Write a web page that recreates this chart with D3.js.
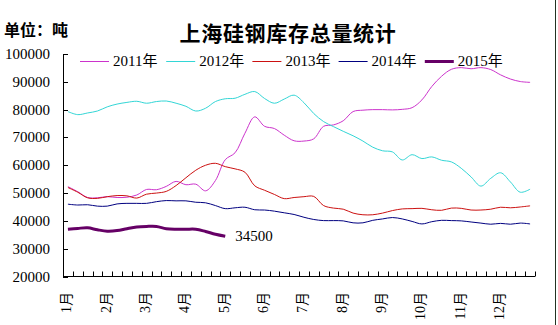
<!DOCTYPE html>
<html><head><meta charset="utf-8">
<script src="https://cdn.jsdelivr.net/npm/d3@7"></script>
<style>
html,body{margin:0;padding:0;background:#fff;}
svg{display:block;}
</style>
</head><body>
<script>
const months = ["1月","2月","3月","4月","5月","6月","7月","8月","9月","10月","11月","12月"];
const weeksPerMonth = 4;
const yTicks = [20000,30000,40000,50000,60000,70000,80000,90000,100000];
const seriesNames = ["2011年","2012年","2013年","2014年","2015年"];
const seriesColors = ["#cc33cc","#33d6d6","#cc1111","#000080","#660066"];
const seriesWidths = [1,1,1,1,3];

const s2011 = [52300,50500,48400,48300,48700,48400,48500,49300,51300,51200,52400,54200,
  53000,53200,50800,54500,62000,64500,71500,77400,74000,73200,70800,68800,
  68700,69500,74000,74500,76000,79300,79800,80000,80000,79900,80100,80700,
  83500,88300,92000,94500,95100,94700,95100,94400,92500,91000,90100,89800];
const s2012 = [79300,78200,78800,79500,81000,82000,82600,83000,82300,82900,83100,82300,
  81200,79500,80500,82900,83900,84100,85500,86500,84000,82300,83800,85200,
  82500,78600,75700,73900,72200,70600,68700,66500,65200,64800,61900,63800,
  62400,63000,61800,61200,58900,55800,52500,55300,57300,54000,50300,51400];
const s2013 = [52000,50300,48300,48100,48700,49100,49000,48200,49600,50000,50600,52700,
  55500,58200,60000,60700,59500,58700,57500,52600,51000,49500,48000,48400,
  48700,48800,45500,44600,44200,42800,42200,42200,42800,43700,44300,44400,
  44500,44000,43800,44600,44500,43900,43900,44200,44900,44700,45000,45400];
const s2014 = [46000,45700,45800,45300,45300,46100,46300,46300,46300,46900,47300,47200,
  47200,46700,46500,45500,44400,44700,44900,44000,43900,43500,42900,42300,
  41300,40500,40100,40100,40000,39300,39300,40200,40700,41200,40700,39800,
  38900,39700,40200,40100,40000,39600,39200,38800,39100,38800,39200,38900];
const s2015 = [37000,37300,37500,36800,36300,36500,37200,37800,38000,38000,37200,37000,
  37000,37000,36200,35200,34500];
const lastLabel = "34500";
const allSeries = [s2011,s2012,s2013,s2014,s2015];

(function(){
const W = 558, H = 325;
const svg = d3.select("body").append("svg").attr("width",W).attr("height",H);
svg.append("rect").attr("width",W).attr("height",H).attr("fill","#fff");

const pL = 63, pR = 535, pT = 54, pB = 276.5;
const nCat = months.length*weeksPerMonth;
const x = d3.scaleBand().domain(d3.range(nCat)).range([pL,pR]).padding(0);
const y = d3.scaleLinear().domain([20000,100000]).range([pB,pT]);
const cx = i => x(i) + x.bandwidth()/2;

const numFont = "'Liberation Serif','Noto Sans CJK SC',serif";

svg.append("text").attr("x",288).attr("y",32)
  .attr("text-anchor","middle").attr("dominant-baseline","central")
  .attr("font-family","'Noto Sans CJK SC',sans-serif").attr("font-weight","bold")
  .attr("font-size",21).attr("letter-spacing",0.7).attr("fill","#000")
  .text("上海硅钢库存总量统计");
svg.append("text").attr("x",4).attr("y",29)
  .attr("dominant-baseline","central")
  .attr("font-family","'Noto Sans CJK SC',sans-serif").attr("font-weight","bold")
  .attr("font-size",16).attr("fill","#000")
  .text("单位：吨");

const gy = svg.append("g");
gy.append("line").attr("x1",pL+0.5).attr("x2",pL+0.5).attr("y1",pT).attr("y2",pB)
  .attr("stroke","#000");
yTicks.forEach(t=>{
  const yy = Math.round(y(t))+0.5;
  gy.append("line").attr("x1",pL).attr("x2",pL+5).attr("y1",yy).attr("y2",yy).attr("stroke","#000");
  gy.append("text").attr("x",50).attr("y",y(t)).attr("text-anchor","end")
    .attr("dominant-baseline","central").attr("font-family",numFont)
    .attr("font-size",15).attr("fill","#000").text(t);
});

const gx = svg.append("g");
gx.append("line").attr("x1",pL).attr("x2",pR).attr("y1",pB).attr("y2",pB).attr("stroke","#000");
d3.range(nCat+1).forEach(k=>{
  const xx = Math.round(k<nCat ? x(k) : pR)+0.5;
  gx.append("line").attr("x1",xx).attr("x2",xx).attr("y1",pB).attr("y2",pB-5).attr("stroke","#000");
});
months.forEach((m,j)=>{
  const xx = cx(j*weeksPerMonth)-1;
  gx.append("text").attr("transform",`translate(${xx},292) rotate(-90)`)
    .attr("text-anchor","end").attr("dominant-baseline","central")
    .attr("font-family",numFont).attr("font-size",14).attr("fill","#000").text(m);
});

const line = d3.line().x((d,i)=>cx(i)).y(d=>y(d)).curve(d3.curveCatmullRom.alpha(0.5));
allSeries.forEach((s,k)=>{
  svg.append("path").datum(s).attr("d",line).attr("fill","none")
    .attr("stroke",seriesColors[k]).attr("stroke-width",seriesWidths[k])
    .attr("stroke-linejoin","round");
});
svg.append("text").attr("x",cx(s2015.length-1)+10).attr("y",y(s2015[s2015.length-1]))
  .attr("dominant-baseline","central").attr("font-family",numFont)
  .attr("font-size",15).attr("fill","#000").text(lastLabel);

const legX0 = 80, legStep = 86.2, legY = 61;
seriesNames.forEach((n,k)=>{
  const lx = legX0 + k*legStep;
  svg.append("line").attr("x1",lx).attr("x2",lx+29).attr("y1",legY+0.5).attr("y2",legY+0.5)
    .attr("stroke",seriesColors[k]).attr("stroke-width",seriesWidths[k]);
  svg.append("text").attr("x",lx+33).attr("y",legY).attr("dominant-baseline","central")
    .attr("font-family",numFont).attr("font-size",15).attr("fill","#000").text(n);
});

svg.append("line").attr("x1",555.5).attr("x2",555.5).attr("y1",0).attr("y2",H)
  .attr("stroke","#223322").attr("stroke-width",1);
})();
</script>
</body></html>
